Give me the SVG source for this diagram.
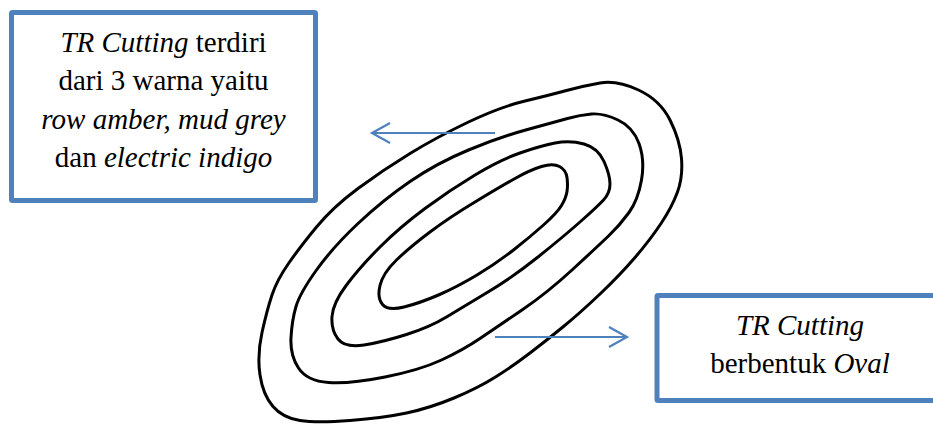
<svg xmlns="http://www.w3.org/2000/svg" width="933" height="425" viewBox="0 0 933 425">
<style>
.box{fill:#ffffff;stroke:#4f81bd;stroke-width:5}
.lbl{font-size:29px;fill:#000000;text-anchor:middle}
.it{font-style:italic}
.ring{fill:none;stroke:#000000;stroke-width:3;stroke-linejoin:round}
.arrow{fill:none;stroke:#4f81bd;stroke-width:2.2}
</style>
<defs>
<marker id="chev" markerUnits="userSpaceOnUse" markerWidth="24" markerHeight="26" viewBox="-21 -13 24 26" refX="0" refY="0" orient="auto">
<path d="M-18,-10 L0,0 L-18,10" fill="none" stroke="#4f81bd" stroke-width="2.2"/>
</marker>
</defs>
<rect width="933" height="425" fill="#ffffff"/>
<g id="oval">
<path class="ring" d="M600,83 Q617,80 638.5,90 Q660,100 670,120 Q680,140 681.5,158.5 Q683,177 677.5,192 Q672,207 661,223.5 Q650,240 635,257.5 Q620,275 600,294 Q580,313 563.5,326.5 Q547,340 530,353 Q513,366 495.5,377 Q478,388 454,398 Q430,408 406.5,413 Q383,418 350,420.5 Q317,423 300,420.5 Q283,418 273,406.5 Q263,395 260,375 Q257,355 262,332.5 Q267,310 272,295 Q277,280 288.5,263.5 Q300,247 316.5,227 Q333,207 358,188.5 Q383,170 410,153.5 Q437,137 468.5,122 Q500,107 525,101 Q550,95 566.5,90.5 Q583,86 600,83 Z"/>
<path class="ring" d="M591.5,114 Q603,113 618,120 Q633,127 639,143.5 Q645,160 641.5,180 Q638,200 629,212.5 Q620,225 608.5,236 Q597,247 572,270 Q547,293 522,310 Q497,327 480,338.5 Q463,350 441.5,360 Q420,370 385,377 Q350,384 328.5,382.5 Q307,381 298.5,368 Q290,355 291,337.5 Q292,320 296,306.5 Q300,293 316.5,270 Q333,247 358,223.5 Q383,200 410,181.5 Q437,163 468.5,150 Q500,137 527.5,129.5 Q555,122 567.5,118.5 Q580,115 591.5,114 Z"/>
<path class="ring" d="M555,143 Q570,140 584,144 Q598,148 604,161.5 Q610,175 610,184 Q610,193 603.5,200 Q597,207 580,222 Q563,237 538,257 Q513,277 488,292 Q463,307 446.5,317 Q430,327 406.5,334.5 Q383,342 364,345 Q345,348 338,339 Q331,330 332,316.5 Q333,303 346.5,285 Q360,267 380,247 Q400,227 425,208.5 Q450,190 475,175 Q500,160 520,153 Q540,146 555,143 Z"/>
<path class="ring" d="M541.5,166.5 Q553,163 559.5,166.5 Q566,170 567,177.5 Q568,185 567,191.5 Q566,198 561.5,205.5 Q557,213 543.5,225 Q530,237 513.5,250 Q497,263 477,275 Q457,287 438.5,295 Q420,303 404,307 Q388,311 382.5,304.5 Q377,298 380,285.5 Q383,273 396.5,260 Q410,247 430,232 Q450,217 475,202 Q500,187 515,178.5 Q530,170 541.5,166.5 Z"/>
</g>
<g id="connectors">
<line class="arrow" x1="495" y1="133" x2="372" y2="133" marker-end="url(#chev)"/>
<line class="arrow" x1="495" y1="337" x2="627" y2="337" marker-end="url(#chev)"/>
</g>
<g id="node-colors" font-family="Liberation Serif, Times New Roman, serif">
<rect class="box" x="11.5" y="12.5" width="304" height="188" rx="1"/>
<text class="lbl" x="163.5" y="52"><tspan class="it">TR Cutting</tspan> terdiri</text>
<text class="lbl" x="163.5" y="90">dari 3 warna yaitu</text>
<text class="lbl it" x="163.5" y="129">row amber, mud grey</text>
<text class="lbl" x="163.5" y="167">dan <tspan class="it">electric indigo</tspan></text>
</g>
<g id="node-shape" font-family="Liberation Serif, Times New Roman, serif">
<rect class="box" x="657" y="295.5" width="286" height="105" rx="1"/>
<text class="lbl it" x="800" y="335">TR Cutting</text>
<text class="lbl" x="800" y="373">berbentuk <tspan class="it">Oval</tspan></text>
</g>
</svg>
